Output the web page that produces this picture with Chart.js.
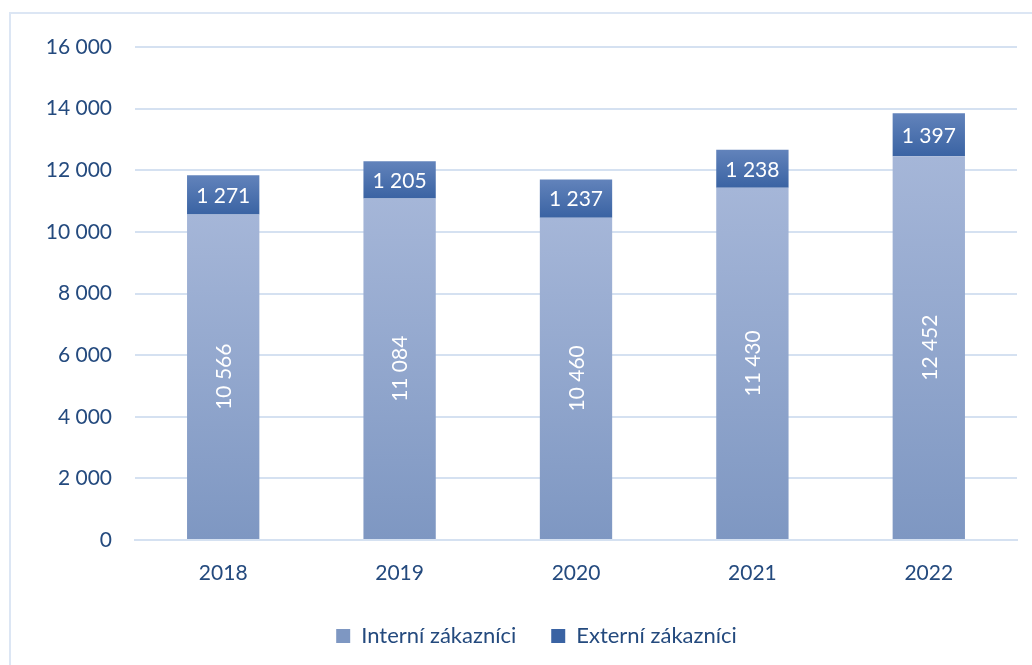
<!DOCTYPE html>
<html>
<head>
<meta charset="utf-8">
<script src="https://cdn.jsdelivr.net/npm/chart.js@4.4.1/dist/chart.umd.min.js"></script>
<style>
  html, body { margin: 0; padding: 0; background: #fff; }
  #frame { position: absolute; left: 9px; top: 12px; width: 1040px; height: 680px; border: 2px solid #dce6f4; box-sizing: border-box; }
  #wrap { position: absolute; left: 0; top: 0; width: 1032px; height: 665px; }
</style>
</head>
<body>
<div id="frame"></div>
<div id="wrap"><canvas id="c" width="1032" height="665"></canvas></div>
<script>
const categories = ['2018', '2019', '2020', '2021', '2022'];
const interni = [10566, 11084, 10460, 11430, 12452];
const externi = [1271, 1205, 1237, 1238, 1397];
const seriesNames = ['Interní zákazníci', 'Externí zákazníci'];
const yTicks = [0, 2000, 4000, 6000, 8000, 10000, 12000, 14000, 16000];

const FONT = 'Lato, "Open Sans", sans-serif';
const TXT = '#244a7e';

function fmt(v) { return String(v).replace(/\B(?=(\d{3})+(?!\d))/g, ' '); }

function grad(ctx, topColor, botColor, lowerArr) {
  const chart = ctx.chart;
  if (!chart.chartArea || ctx.type !== 'data') return topColor;
  const y = chart.scales.y;
  const i = ctx.dataIndex;
  const base = lowerArr ? lowerArr[i] : 0;
  const v = ctx.raw;
  const top = y.getPixelForValue(base + v);
  const bot = y.getPixelForValue(base);
  if (!isFinite(top) || !isFinite(bot) || top === bot) return topColor;
  const g = chart.ctx.createLinearGradient(0, top, 0, bot);
  g.addColorStop(0, topColor);
  g.addColorStop(1, botColor);
  return g;
}

const labelPlugin = {
  id: 'barLabels',
  afterLayout(chart) {
    if (chart.legend) { chart.legend.left += 28; chart.legend.right += 28; }
  },
  afterDatasetsDraw(chart) {
    const c = chart.ctx;
    c.save();
    c.fillStyle = '#ffffff';
    c.font = '21px ' + FONT;
    c.textAlign = 'center';
    c.textBaseline = 'middle';
    chart.data.datasets.forEach((ds, di) => {
      const meta = chart.getDatasetMeta(di);
      meta.data.forEach((el, i) => {
        const cx = el.x;
        const cy = (el.y + el.base) / 2;
        const txt = fmt(ds.data[i]);
        if (di === 0) {
          c.save();
          c.translate(cx, cy);
          c.rotate(-Math.PI / 2);
          c.fillText(txt, 0, 1);
          c.restore();
        } else {
          c.fillText(txt, cx, cy + 1);
        }
      });
    });
    c.restore();
  }
};

new Chart(document.getElementById('c'), {
  type: 'bar',
  data: {
    labels: categories,
    datasets: [
      {
        label: seriesNames[0],
        data: interni,
        backgroundColor: (ctx) => ctx.type === 'data' ? grad(ctx, '#a5b6d8', '#7e97c2', null) : '#94a9d0',
        borderWidth: 0,
        categoryPercentage: 1,
        barPercentage: 0.41
      },
      {
        label: seriesNames[1],
        data: externi,
        backgroundColor: (ctx) => ctx.type === 'data' ? grad(ctx, '#6283bb', '#3a63a3', interni) : '#4a6fad',
        borderWidth: 0,
        categoryPercentage: 1,
        barPercentage: 0.41
      }
    ]
  },
  options: {
    responsive: false,
    animation: false,
    devicePixelRatio: 1,
    layout: { padding: { left: 0, right: 15, top: 47, bottom: 8 } },
    scales: {
      x: {
        stacked: true,
        grid: { display: false, drawTicks: false },
        border: { display: true, color: '#d5e1f1', width: 2 },
        ticks: { color: TXT, font: { family: FONT, size: 21 }, padding: 21 },
        afterFit(scale) { scale.height = 50; }
      },
      y: {
        stacked: true,
        min: 0,
        max: 16000,
        afterBuildTicks(scale) { scale.ticks = yTicks.map(v => ({ value: v })); },
        grid: { color: '#d5e1f1', lineWidth: 2, drawTicks: false },
        border: { display: false },
        ticks: { color: TXT, font: { family: FONT, size: 21 }, padding: 23, callback: (v) => fmt(v) },
        afterFit(scale) { scale.width = 135; }
      }
    },
    plugins: {
      legend: {
        position: 'bottom',
        maxHeight: 75,
        labels: {
          color: TXT,
          font: { family: FONT, size: 22 },
          boxWidth: 14,
          boxHeight: 14,
          padding: 35
        }
      },
      tooltip: { enabled: false }
    }
  },
  plugins: [labelPlugin]
});
</script>
</body>
</html>
